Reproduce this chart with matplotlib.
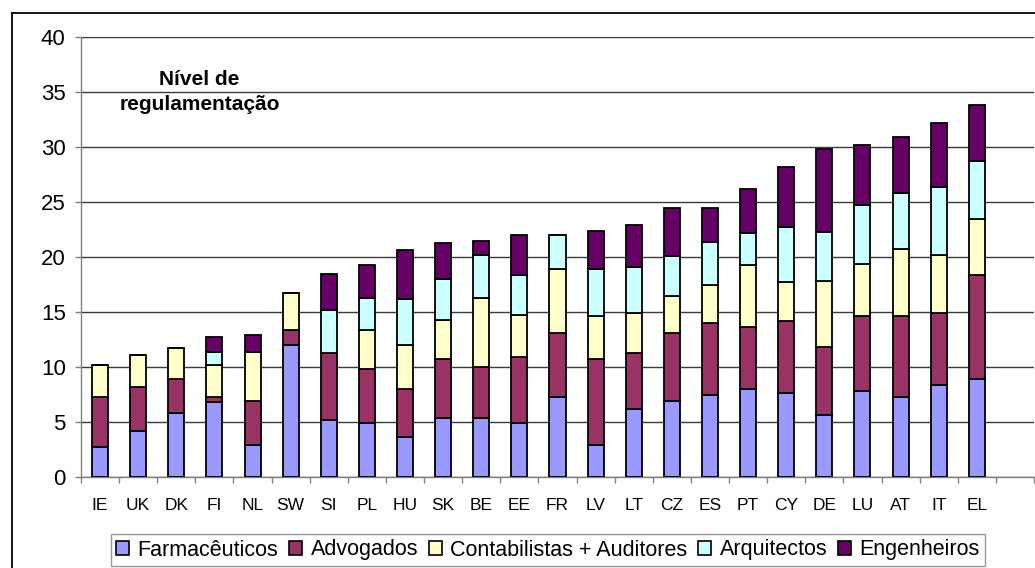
import matplotlib
matplotlib.use("Agg")
import matplotlib.pyplot as plt
from matplotlib.lines import Line2D
from matplotlib.patches import Patch
import numpy as np

plt.rcParams["font.family"] = ["Liberation Sans", "DejaVu Sans"]

countries = ["IE", "UK", "DK", "FI", "NL", "SW", "SI", "PL", "HU", "SK", "BE", "EE",
             "FR", "LV", "LT", "CZ", "ES", "PT", "CY", "DE", "LU", "AT", "IT", "EL"]

farmaceuticos = [2.7, 4.2, 5.8, 6.85, 2.9, 12.0, 5.2, 4.9, 3.6, 5.4, 5.4, 4.9,
                 7.25, 2.9, 6.15, 6.9, 7.45, 8.0, 7.6, 5.6, 7.85, 7.25, 8.35, 8.9]
advogados = [4.55, 4.0, 3.1, 0.4, 4.0, 1.4, 6.05, 4.9, 4.4, 5.3, 4.6, 6.0,
             5.85, 7.8, 5.15, 6.2, 6.55, 5.6, 6.6, 6.25, 6.75, 7.35, 6.55, 9.5]
contabilistas = [2.9, 2.9, 2.8, 2.9, 4.5, 3.35, 0.0, 3.6, 4.0, 3.6, 6.3, 3.85,
                 5.8, 3.9, 3.6, 3.4, 3.45, 5.65, 3.5, 5.95, 4.8, 6.1, 5.25, 5.1]
arquitectos = [0.0, 0.0, 0.0, 1.25, 0.0, 0.0, 3.95, 2.9, 4.2, 3.7, 3.85, 3.65,
               3.1, 4.3, 4.2, 3.6, 3.95, 2.9, 5.0, 4.5, 5.3, 5.1, 6.25, 5.2]
engenheiros = [0.0, 0.0, 0.0, 1.3, 1.5, 0.0, 3.3, 3.0, 4.4, 3.3, 1.35, 3.6,
               0.0, 3.5, 3.8, 4.4, 3.1, 4.05, 5.5, 7.5, 5.5, 5.1, 5.8, 5.1]

series_names = ["Farmacêuticos", "Advogados", "Contabilistas + Auditores",
                "Arquitectos", "Engenheiros"]
colors = ["#9999FF", "#993366", "#FFFFCC", "#CCFFFF", "#660066"]

W, H = 1035, 568
fig = plt.figure(figsize=(W / 100, H / 100), dpi=100)
ax = fig.add_axes([81 / W, 91 / H, 953 / W, 440 / H])

x = np.arange(len(countries))
bottom = np.zeros(len(countries))
series = [farmaceuticos, advogados, contabilistas, arquitectos, engenheiros]
for vals, col in zip(series, colors):
    vals = np.array(vals)
    ax.bar(x, vals, 0.42, bottom=bottom, color=col, edgecolor="black",
           linewidth=1.3, zorder=3)
    bottom += vals

ax.set_xlim(-0.5, len(countries) + 0.5)
ax.set_ylim(0, 40)
ax.set_yticks(np.arange(0, 41, 5))
ax.grid(axis="y", color="#3a3a3a", linewidth=1.0, zorder=0)
ax.tick_params(axis="y", labelsize=16, length=4, width=1, color="#808080", pad=7)

ax.set_xticks(x)
ax.set_xticklabels(countries)
ax.tick_params(axis="x", which="major", length=0, labelsize=12.5, pad=15)
ax.set_xticks(np.arange(-0.5, len(countries) + 1), minor=True)
ax.tick_params(axis="x", which="minor", length=4, width=1, color="#808080")

for side in ["top", "right"]:
    ax.spines[side].set_visible(False)
for side in ["left", "bottom"]:
    ax.spines[side].set_color("#808080")
    ax.spines[side].set_linewidth(1.0)

fig.text(199.5 / W, (H - 92) / H, "Nível de\nregulamentação", ha="center",
         va="center", fontsize=15, fontweight="bold", linespacing=1.35)

# outer chart border (cropped on right and bottom)
fig.add_artist(Line2D([12 / W, 12 / W], [0, (H - 13) / H], color="black",
                      linewidth=1.3, transform=fig.transFigure))
fig.add_artist(Line2D([12 / W, 1], [(H - 13) / H, (H - 13) / H], color="black",
                      linewidth=1.3, transform=fig.transFigure))

handles = [Patch(facecolor=c, edgecolor="black", linewidth=1.2) for c in colors]
leg = fig.legend(handles, series_names, loc="center", bbox_to_anchor=(548 / W, 18 / H),
                 ncol=5, fontsize=15.5, frameon=True, fancybox=False,
                 handlelength=0.6, handleheight=0.6, handletextpad=0.4,
                 columnspacing=0.5, borderpad=0.25, borderaxespad=0)
leg.get_frame().set_edgecolor("#808080")
leg.get_frame().set_linewidth(1.0)

plt.savefig("out.png", dpi=100)
plt.close()
